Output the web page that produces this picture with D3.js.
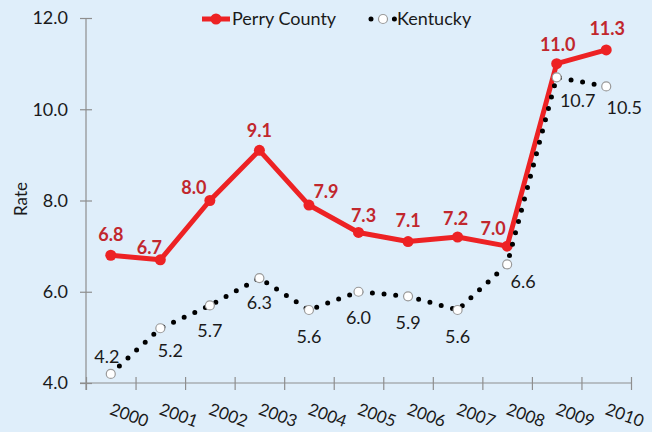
<!DOCTYPE html>
<html>
<head>
<meta charset="utf-8">
<script src="https://cdn.jsdelivr.net/npm/d3@7"></script>
<style>
  html, body { margin: 0; padding: 0; background: #DFEEFA; }
  svg { display: block; }
  text { font-family: Lato, "Open Sans", sans-serif; }
</style>
</head>
<body>
<script>
// ---- data ----
const years = ["2000","2001","2002","2003","2004","2005","2006","2007","2008","2009","2010"];
const perryCounty = [6.8, 6.7, 8.0, 9.1, 7.9, 7.3, 7.1, 7.2, 7.0, 11.0, 11.3];
const kentucky = [4.2, 5.2, 5.7, 6.3, 5.6, 6.0, 5.9, 5.6, 6.6, 10.7, 10.5];
const yTicks = [4, 6, 8, 10, 12];
const seriesNames = ["Perry County", "Kentucky"];

// label placement offsets (dx, dy from point to label centre)
const perryLabelDx = [0, -11, -16, 0, 17, 5, 0, -2, -14, 1, 1];
const perryLabelDy = [-21, -12, -13, -20, -13, -17, -21, -18, -17, -19, -21];
const kyLabelDx = [-4, 10, 0, 0, 0, 0, 0, 0, 16, 21, 18];
const kyLabelDy = [-17, 22, 25, 25, 27, 26, 26, 27, 17, 23, 21];

(function () {
const W = 652, H = 432;
const mLeft = 86, mRight = 631, mTop = 18, mBottom = 383;

const svg = d3.select("body").append("svg").attr("width", W).attr("height", H);
svg.append("rect").attr("width", W).attr("height", H).attr("fill", "#DFEEFA");

const x = d3.scaleBand().domain(years).range([mLeft, mRight]).padding(0);
const cx = d => x(d) + x.bandwidth() / 2;
const y = d3.scaleLinear().domain([4, 12]).range([mBottom, mTop]);

const axisColor = "#8E8E8E";

// Y axis
const yAxis = svg.append("g").attr("transform", `translate(${mLeft},0)`)
  .call(d3.axisLeft(y).tickValues(yTicks).tickFormat(d3.format(".1f")).tickSize(6).tickPadding(12));
yAxis.select(".domain").attr("stroke", axisColor).attr("stroke-width", 1.2)
  .attr("d", `M0,${mTop}V${mBottom + 7}`);
yAxis.selectAll(".tick line").attr("stroke", axisColor).attr("stroke-width", 1.2).attr("x1", 6).attr("x2", -6);
yAxis.selectAll(".tick text").attr("fill", "#1a1a1a").style("font-size", "18px").attr("x", -18);

// X axis (ticks at category boundaries)
const xb = d3.scaleLinear().domain([0, years.length]).range([mLeft, mRight]);
const xAxis = svg.append("g").attr("transform", `translate(0,${mBottom})`)
  .call(d3.axisBottom(xb).tickValues(d3.range(years.length + 1)).tickFormat("").tickSize(7));
xAxis.select(".domain").attr("stroke", axisColor).attr("stroke-width", 1.2).attr("d", `M${mLeft - 6},0H${mRight}`);
xAxis.selectAll(".tick line").attr("stroke", axisColor).attr("stroke-width", 1.2).attr("y1", -6).attr("y2", 7);

// X labels rotated
svg.append("g").selectAll("text").data(years).join("text")
  .attr("transform", d => `translate(${cx(d) - 2},${mBottom + 31}) rotate(20)`)
  .attr("text-anchor", "start")
  .attr("fill", "#1a1a1a")
  .style("font-size", "17px")
  .text(d => d);

// Y title
svg.append("text")
  .attr("transform", `translate(27,199) rotate(-90)`)
  .attr("text-anchor", "middle")
  .attr("fill", "#1a1a1a")
  .style("font-size", "17px")
  .text("Rate");

const red = "#ED2224";
const redLabel = "#C1272D";

// Perry County line
const line = d3.line().x((d, i) => cx(years[i])).y(d => y(d));
svg.append("path").datum(perryCounty).attr("d", line)
  .attr("fill", "none").attr("stroke", red).attr("stroke-width", 5).attr("stroke-linejoin", "round");
svg.append("g").selectAll("circle").data(perryCounty).join("circle")
  .attr("cx", (d, i) => cx(years[i])).attr("cy", d => y(d)).attr("r", 5.5).attr("fill", red);

// Kentucky line
svg.append("path").datum(kentucky).attr("d", line)
  .attr("fill", "none").attr("stroke", "#000").attr("stroke-width", 5)
  .attr("stroke-linecap", "round").attr("stroke-dasharray", "0 11.7");
svg.append("g").selectAll("circle").data(kentucky).join("circle")
  .attr("cx", (d, i) => cx(years[i])).attr("cy", d => y(d)).attr("r", 4.5)
  .attr("fill", "#fff").attr("stroke", "#9a9a9a").attr("stroke-width", 1.2);

// labels
svg.append("g").selectAll("text").data(perryCounty).join("text")
  .attr("x", (d, i) => cx(years[i]) + perryLabelDx[i])
  .attr("y", (d, i) => y(d) + perryLabelDy[i])
  .attr("dy", "0.35em")
  .attr("text-anchor", "middle")
  .attr("fill", redLabel).style("font-size", "18px").style("font-weight", "bold")
  .text(d => d.toFixed(1));

svg.append("g").selectAll("text").data(kentucky).join("text")
  .attr("x", (d, i) => cx(years[i]) + kyLabelDx[i])
  .attr("y", (d, i) => y(d) + kyLabelDy[i])
  .attr("dy", "0.35em")
  .attr("text-anchor", "middle")
  .attr("fill", "#1a1a1a").style("font-size", "18px")
  .text(d => d.toFixed(1));

// Legend
const lg = svg.append("g");
lg.append("line").attr("x1", 202).attr("x2", 230).attr("y1", 19).attr("y2", 19)
  .attr("stroke", red).attr("stroke-width", 5);
lg.append("circle").attr("cx", 216).attr("cy", 19).attr("r", 5.5).attr("fill", red);
lg.append("text").attr("x", 232).attr("y", 19).attr("dy", "0.35em")
  .attr("fill", "#1a1a1a").style("font-size", "18px").text(seriesNames[0]);

lg.append("line").attr("x1", 371).attr("x2", 395).attr("y1", 19).attr("y2", 19)
  .attr("stroke", "#000").attr("stroke-width", 5).attr("stroke-linecap", "round")
  .attr("stroke-dasharray", "0 11.7");
lg.append("circle").attr("cx", 383).attr("cy", 19).attr("r", 4.5)
  .attr("fill", "#fff").attr("stroke", "#9a9a9a").attr("stroke-width", 1.2);
lg.append("text").attr("x", 397).attr("y", 19).attr("dy", "0.35em")
  .attr("fill", "#1a1a1a").style("font-size", "18px").text(seriesNames[1]);
})();
</script>
</body>
</html>
